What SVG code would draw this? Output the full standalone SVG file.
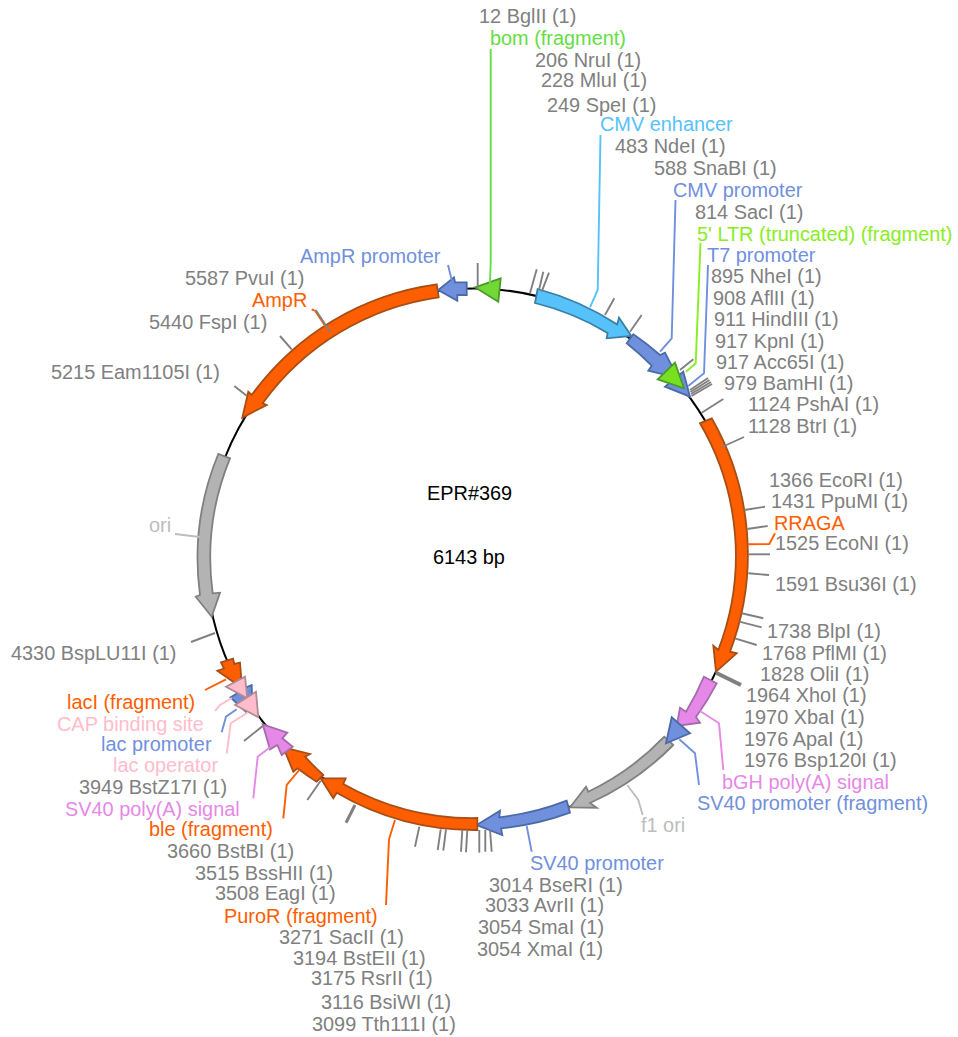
<svg xmlns="http://www.w3.org/2000/svg" width="958" height="1037" viewBox="0 0 958 1037">
<style>
text{font-family:"Liberation Sans",Arial,sans-serif;font-size:19.9px;transform:translateY(.8px)}
.s{fill:#808080}
.k{fill:#000}
.f{stroke-width:1.8;stroke-linejoin:miter}
.or{fill:#ff5e00;stroke:#a84e14}
.bl{fill:#7090dd;stroke:#4a6aa8}
.cy{fill:#57c2fa;stroke:#3a7fa6}
.gn{fill:#72d835;stroke:#4c9a28}
.lg{fill:#77e020;stroke:#4c9a28}
.gy{fill:#b3b3b3;stroke:#808080}
.pu{fill:#e688e8;stroke:#a56cac}
.pk{fill:#ffbccb;stroke:#b08a94}
.tor{fill:#ff5e00}.tbl{fill:#7090dd}.tcy{fill:#57c2fa}.tgn{fill:#66dd44}.tlg{fill:#88ee22}.tgy{fill:#bdbdbd}.tpu{fill:#e688e8}.tpk{fill:#ffbccb}
#connectors path{fill:none;stroke-width:1.9}
.t{stroke:#808080}
.T{stroke:#808080;stroke-width:4!important}
.lor{stroke:#ff5e00}.lbl{stroke:#7090dd}.lcy{stroke:#57c2fa}.lgn{stroke:#66dd44}.llg{stroke:#88ee22}.lgy{stroke:#bdbdbd}.lpu{stroke:#e688e8}.lpk{stroke:#ffbccb}
</style>
<g id="backbone"><circle cx="474" cy="556.5" r="268" fill="none" stroke="#000" stroke-width="2"/></g>
<g id="title"><text class="k" x="427" y="499.5">EPR#369</text><text class="k" x="433" y="563.5">6143 bp</text></g>
<g id="feature-bom"><polygon class="f gn" points="475,287.3 500.7,278.3 498.3,301.7"/><text class="tgn" x="490" y="44.5">bom (fragment)</text></g>
<g id="feature-cmv-enhancer"><path class="f cy" d="M537.6,289A275,275 0 0 1 617.2,324.5L619,317.7L631.3,336L606.7,338.3L607.6,333A261,261 0 0 0 535,303Z"/><text class="tcy" x="600" y="130">CMV enhancer</text></g>
<g id="feature-cmv-promoter"><path class="f bl" d="M633.3,334.3A274,274 0 0 1 660,355L665,352.7L678,378L648.3,370.7L651.7,365.7A262,262 0 0 0 626.7,343.3Z"/><text class="tbl" x="673" y="196">CMV promoter</text></g>
<g id="feature-t7"><polygon class="f bl" points="683.3,371.7 690,396.7 665,386.7"/><text class="tbl" x="707" y="261">T7 promoter</text></g>
<g id="feature-ltr"><polygon class="f lg" points="684,388.3 675,362.7 657.7,379.3"/><text class="tlg" x="697" y="240">5' LTR (truncated) (fragment)</text></g>
<g id="feature-rraga"><path class="f or" d="M700,423.3A262,262 0 0 1 718.3,650L713.3,645.7L716,671.7L736.7,653.3L730,651.7A274,274 0 0 0 711.7,418.3Z"/><text class="tor" x="774" y="529">RRAGA</text></g>
<g id="feature-bgh"><path class="f pu" d="M704,676.7A262,262 0 0 1 686,711.7L680,707.7L676.7,726L700,722.7L696,717A274,274 0 0 0 716.7,683.3Z"/><text class="tpu" x="722" y="788">bGH poly(A) signal</text></g>
<g id="feature-f1-ori"><path class="f gy" d="M664.3,736.7A262,262 0 0 1 588.3,791.7L586,786.7L570,807.3L596.7,807.7L590,803A274,274 0 0 0 673.3,745Z"/><text class="tgy" x="641" y="831">f1 ori</text></g>
<g id="feature-sv40-fragment"><polygon class="f bl" points="671.7,717.3 690,733.3 666,743.3"/><text class="tbl" x="697" y="809">SV40 promoter (fragment)</text></g>
<g id="feature-sv40-promoter"><path class="f bl" d="M566.7,800.7A262,262 0 0 1 499.3,817.3L500,810.7L476.7,825L502.3,835L501,828.3A274,274 0 0 0 570,812.7Z"/><text class="tbl" x="530" y="869">SV40 promoter</text></g>
<g id="feature-puror"><path class="f or" d="M477.3,818A262,262 0 0 1 343.3,784L345.7,778.3L320.7,778.3L333.3,798.3L336.7,792.7A274,274 0 0 0 477.3,830Z"/><text class="tor" x="224" y="922">PuroR (fragment)</text></g>
<g id="feature-ble"><path class="f or" d="M323.3,775A262,262 0 0 1 305,756.7L310,754L283.3,747.3L293.3,771.7L297.3,768.3A274,274 0 0 0 316.7,781.7Z"/><text class="tor" x="149" y="835.5">ble (fragment)</text></g>
<g id="feature-sv40-polya"><polygon class="f pu" points="262.7,724.3 287.3,732.7 282.3,738.3 292.7,746.7 281.7,755 277.3,745 270,749.3"/><text class="tpu" x="65" y="815.5">SV40 poly(A) signal</text></g>
<g id="feature-laci"><polygon class="f or" points="221,662.3 233,658.7 234.3,664 240,662.7 242,688 217.3,670.7 224,668.5"/><text class="tor" x="67" y="708">lacI (fragment)</text></g>
<g id="feature-lac-promoter"><polygon class="f bl" points="251.7,685 252,697 246,712 230.5,697.3 237,693.5 247,687"/><text class="tbl" x="101" y="750">lac promoter</text></g>
<g id="feature-cap"><polygon class="f pk" points="226,686.7 245,676.7 247.3,698.3"/><text class="tpk" x="57" y="730">CAP binding site</text></g>
<g id="feature-lac-operator"><polygon class="f pk" points="235,705 256,691.7 258.3,717.3"/><text class="tpk" x="113" y="771.5">lac operator</text></g>
<g id="feature-ori"><path class="f gy" d="M230,458.3A262,262 0 0 0 212.7,593.3L220,592.7L211.7,616.7L195.7,596.7L200,595A274,274 0 0 1 218.3,454Z"/><text class="tgy" x="149" y="531">ori</text></g>
<g id="feature-ampr"><path class="f or" d="M436.7,284.3A274,274 0 0 0 251.7,395L248.3,391.7L242.3,417.7L266.7,405L262.7,403.3A262,262 0 0 1 438.7,297.3Z"/><text class="tor" x="252" y="306">AmpR</text></g>
<g id="feature-ampr-promoter"><polygon class="f bl" points="438.3,290 454,277.3 455,282.3 466.7,282.3 466.7,295 457.3,295 457.3,300.7"/><text class="tbl" x="300" y="262">AmpR promoter</text></g>
<g id="sites">
<g id="site-12"><text class="s" x="479" y="22">12 BglII (1)</text></g>
<g id="site-206"><text class="s" x="535" y="66">206 NruI (1)</text></g>
<g id="site-228"><text class="s" x="541" y="86">228 MluI (1)</text></g>
<g id="site-249"><text class="s" x="547" y="111">249 SpeI (1)</text></g>
<g id="site-483"><text class="s" x="615" y="152">483 NdeI (1)</text></g>
<g id="site-588"><text class="s" x="654" y="174">588 SnaBI (1)</text></g>
<g id="site-814"><text class="s" x="695" y="218">814 SacI (1)</text></g>
<g id="site-895"><text class="s" x="711" y="282">895 NheI (1)</text></g>
<g id="site-908"><text class="s" x="713" y="304">908 AflII (1)</text></g>
<g id="site-911"><text class="s" x="714" y="325">911 HindIII (1)</text></g>
<g id="site-917a"><text class="s" x="715" y="347">917 KpnI (1)</text></g>
<g id="site-917b"><text class="s" x="716" y="368">917 Acc65I (1)</text></g>
<g id="site-979"><text class="s" x="724" y="389">979 BamHI (1)</text></g>
<g id="site-1124"><text class="s" x="748" y="410">1124 PshAI (1)</text></g>
<g id="site-1128"><text class="s" x="748" y="432">1128 BtrI (1)</text></g>
<g id="site-1366"><text class="s" x="769" y="486">1366 EcoRI (1)</text></g>
<g id="site-1431"><text class="s" x="771" y="507">1431 PpuMI (1)</text></g>
<g id="site-1525"><text class="s" x="775" y="549">1525 EcoNI (1)</text></g>
<g id="site-1591"><text class="s" x="775" y="590">1591 Bsu36I (1)</text></g>
<g id="site-1738"><text class="s" x="767" y="637">1738 BlpI (1)</text></g>
<g id="site-1768"><text class="s" x="762" y="659">1768 PflMI (1)</text></g>
<g id="site-1828"><text class="s" x="760" y="680">1828 OliI (1)</text></g>
<g id="site-1964"><text class="s" x="746" y="701">1964 XhoI (1)</text></g>
<g id="site-1970"><text class="s" x="744" y="723">1970 XbaI (1)</text></g>
<g id="site-1976a"><text class="s" x="744" y="745">1976 ApaI (1)</text></g>
<g id="site-1976b"><text class="s" x="744" y="766">1976 Bsp120I (1)</text></g>
<g id="site-3014"><text class="s" x="489" y="891">3014 BseRI (1)</text></g>
<g id="site-3033"><text class="s" x="485" y="911">3033 AvrII (1)</text></g>
<g id="site-3054a"><text class="s" x="478" y="933">3054 SmaI (1)</text></g>
<g id="site-3054b"><text class="s" x="477" y="955">3054 XmaI (1)</text></g>
<g id="site-3099"><text class="s" x="312" y="1030">3099 Tth111I (1)</text></g>
<g id="site-3116"><text class="s" x="321" y="1008">3116 BsiWI (1)</text></g>
<g id="site-3175"><text class="s" x="311" y="984">3175 RsrII (1)</text></g>
<g id="site-3194"><text class="s" x="293" y="964">3194 BstEII (1)</text></g>
<g id="site-3271"><text class="s" x="279" y="943">3271 SacII (1)</text></g>
<g id="site-3508"><text class="s" x="215" y="899">3508 EagI (1)</text></g>
<g id="site-3515"><text class="s" x="195" y="879">3515 BssHII (1)</text></g>
<g id="site-3660"><text class="s" x="167" y="857">3660 BstBI (1)</text></g>
<g id="site-3949"><text class="s" x="79" y="793">3949 BstZ17I (1)</text></g>
<g id="site-4330"><text class="s" x="11" y="659">4330 BspLU11I (1)</text></g>
<g id="site-5215"><text class="s" x="51" y="378">5215 Eam1105I (1)</text></g>
<g id="site-5440"><text class="s" x="149" y="328">5440 FspI (1)</text></g>
<g id="site-5587"><text class="s" x="185" y="284">5587 PvuI (1)</text></g>
</g>
<g id="connectors">
<path class="lgn" d="M490.7,49L490.7,262L490,283"/>
<path class="lcy" d="M600.5,135L597.7,290L590,307.3"/>
<path class="lbl" d="M675.5,200L671.7,338.3L660,351.7"/>
<path class="llg" d="M700.5,243L695.7,363.3L686,371.7"/>
<path class="lbl" d="M708,265L704,373.3L688.3,386"/>
<path class="lbl" d="M448,265L451.7,280"/>
<path class="lor" d="M311.7,309.3L315,310.7L326.7,328.3"/>
<path class="lor" d="M748.3,544.3L769.3,544L775,533.3"/>
<path class="lpu" d="M700,711L719,723.3L723.3,770"/>
<path class="lbl" d="M679.3,739.3L695,753.3L699,785"/>
<path class="lgy" d="M627.3,785L638.3,800L642.7,815"/>
<path class="lbl" d="M526.7,826L531.7,851.7"/>
<path class="lor" d="M386,905L389,839.3L395,820"/>
<path class="lor" d="M283.3,818.3L286.7,785L299.3,770"/>
<path class="lpu" d="M253.3,798.3L257.7,756.7L270,747.3"/>
<path class="lpk" d="M226.7,753.3L230.7,723.3L247.3,712.7"/>
<path class="lbl" d="M221.7,732.3L226,716.7L236.7,709.3"/>
<path class="lpk" d="M215,711L220,705L232,698"/>
<path class="lor" d="M205,690L226,679.3"/>
<path class="lgy" d="M175,534L200,537"/>
<path class="t" d="M477.7,288V263"/>
<path class="t" d="M530,293.3L536.7,269.3"/>
<path class="t" d="M539,290L543.3,271.7"/>
<path class="t" d="M541.7,291.7L549,272.7"/>
<path class="t" d="M605,315L614.3,298.3"/>
<path class="t" d="M630,331.7L641.7,315"/>
<path class="t" d="M680,370L693.3,359.3"/>
<path class="t" d="M690,390L708,378"/>
<path class="t" d="M690.5,392L709.5,380"/>
<path class="t" d="M691,394L711,382"/>
<path class="t" d="M691.5,396L712,384"/>
<path class="t" d="M701.7,412.7L723.3,399"/>
<path class="t" d="M722,447L744,437"/>
<path class="t" d="M744.3,510L765,506.7"/>
<path class="t" d="M747.3,529L767.7,526"/>
<path class="t" d="M748.3,554.3L770,554.3"/>
<path class="t" d="M748.3,573.3L769,575"/>
<path class="t" d="M741.7,613.3L763.3,618.3"/>
<path class="t" d="M739.3,621.7L761.7,627.3"/>
<path class="t" d="M735,638.3L756.7,645"/>
<path class="T" d="M716,672.7L741,685"/>
<path class="t" d="M479.3,830V852.7"/>
<path class="t" d="M485.3,830V851.7"/>
<path class="t" d="M490,830L491.7,851.7"/>
<path class="t" d="M462.3,830L461,851.7"/>
<path class="t" d="M467.3,830L466,852.3"/>
<path class="t" d="M440.7,829.3L437.7,850"/>
<path class="t" d="M446,829.3L443.3,850.7"/>
<path class="t" d="M419.3,826.7L415,846.7"/>
<path class="T" d="M355,805L346,822.7" style="stroke-width:3!important"/>
<path class="t" d="M320.7,780.7L307.3,800"/>
<path class="t" d="M262.7,726L244,741"/>
<path class="t" d="M215,633L191,642"/>
<path class="t" d="M246.7,395.7L234.3,386"/>
<path class="t" d="M291.7,349.3L280,336"/>
<path class="t" d="M330,331.7L315.7,310"/>
</g>
</svg>
